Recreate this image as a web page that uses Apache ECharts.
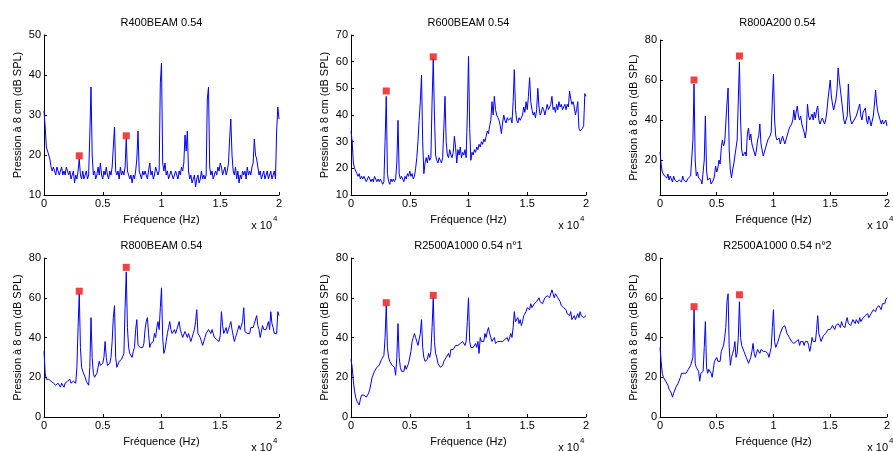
<!DOCTYPE html>
<html>
<head>
<meta charset="utf-8">
<script src="https://cdn.jsdelivr.net/npm/echarts@6/dist/echarts.min.js"></script>
<style>
html,body{margin:0;padding:0;background:#fff;}
#chart{width:893px;height:451px;}
</style>
</head>
<body>
<div id="chart"></div>
<script>
// ---- data ----
const FREQ_STEP_HZ = 100; // spacing of the spectrum samples (0 .. 20000 Hz)
const titles = ['R400BEAM 0.54', 'R600BEAM 0.54', 'R800A200 0.54', 'R800BEAM 0.54', 'R2500A1000 0.54 n°1', 'R2500A1000 0.54 n°2'];
const xTickLabels = ['0', '0.5', '1', '1.5', '2'];

const r400beam = [
31,27,22,21,20,19,17,16,17,16,
15,17,16,15,16,17,15,16,15,17,
16,15,16,14,15,16,13,15,14,16,
19,15,14,16,14,15,16,14,15,25,
37,20,15,16,14,15,17,15,18,15,
14,16,15,17,15,14,16,15,17,22,
27,16,15,16,14,17,15,16,15,17,
24,16,15,14,15,13,15,14,16,19,
26,16,15,14,16,15,16,15,14,16,
18,15,16,14,15,17,16,15,16,38,
43,18,16,18,15,16,14,15,16,15,
14,15,16,15,14,16,15,17,16,18,
25,21,26,16,14,15,13,14,15,12,
14,15,13,14,16,14,15,14,15,34,
37,17,15,16,14,15,16,15,17,16,
18,17,15,16,17,15,16,18,24,29,
20,16,15,17,14,16,13,15,14,16,
15,16,14,17,15,16,15,17,18,24,
20,19,17,15,16,14,15,16,14,15,
16,14,15,16,14,15,16,14,26,32,
29];

const r600beam = [
34,30,22,20,19,18,17,18,16,17,
16,17,16,15,16,17,16,15,16,15,
17,16,15,16,15,16,15,14,15,30,
47,18,15,14,16,15,16,15,16,22,
38,18,16,17,16,15,17,16,18,17,
19,17,18,16,17,20,24,30,38,45,
55,30,18,22,24,22,25,23,24,45,
61,40,25,23,22,24,23,22,24,35,
47,30,25,24,27,25,24,26,32,28,
22,27,25,28,24,26,25,27,24,40,
62,35,23,26,25,27,26,28,27,29,
28,30,29,31,30,32,34,33,36,38,
45,40,47,42,40,39,38,36,33,37,
40,38,37,39,38,38,39,37,45,57,
42,38,37,39,38,38,40,43,41,45,
42,47,54,45,42,40,41,39,42,50,
43,40,41,43,42,40,42,44,42,43,
44,47,42,43,41,44,42,45,43,44,
42,43,44,42,44,43,49,46,44,45,
43,40,42,45,35,34,34,35,36,48,
47];

const r800a200 = [
24,18,14,13,12,12,11,13,10,12,
11,9,12,10,11,9,8,10,11,9,
12,10,11,9,10,11,10,12,13,30,
58,20,12,14,11,12,10,8,9,20,
42,15,10,9,11,8,9,10,12,17,
14,16,20,18,26,30,27,29,28,48,
56,25,15,11,15,18,22,26,30,50,
69,40,25,22,23,24,22,33,36,30,
33,28,26,24,22,25,30,32,38,28,
25,22,24,26,28,30,29,32,34,50,
63,40,32,30,29,31,28,30,32,30,
28,30,32,34,36,35,38,40,45,40,
44,47,42,40,42,38,36,34,31,35,
48,42,40,41,43,40,44,41,45,47,
40,38,39,41,40,38,40,44,50,55,
60,52,48,45,46,50,55,66,60,55,
50,45,40,38,38,42,58,45,40,38,
39,40,41,42,44,46,48,42,40,44,
44,46,40,38,42,40,37,36,42,48,
55,48,44,42,40,38,40,38,39,40,
37];

const r800beam = [
33,22,19,20,19,20,18,19,17,16,
16,15,17,16,15,17,16,15,17,16,
18,17,19,17,18,18,17,17,25,45,
62,35,25,23,22,20,18,17,16,25,
50,30,22,20,21,22,25,28,26,25,
27,30,38,30,26,25,27,30,38,50,
56,30,25,26,28,27,29,28,32,55,
73,45,35,32,31,30,33,35,44,49,
36,37,35,36,35,37,44,48,50,42,
35,37,36,38,42,40,45,48,44,55,
65,40,32,34,38,42,45,48,44,42,
43,44,42,44,43,48,44,42,40,41,
43,44,40,42,41,38,40,42,44,48,
54,42,42,40,38,36,38,40,42,41,
44,43,42,44,42,40,41,39,40,38,
41,53,46,42,43,45,42,44,46,48,
44,41,38,40,42,44,46,44,45,48,
55,43,44,42,41,42,45,46,45,47,
48,51,46,44,40,41,46,44,43,44,
46,48,44,53,47,45,42,43,42,53,
51];

const r2500a1000n1 = [
29,25,18,13,10,8,9,6,9,11,
12,11,10,10,11,12,14,17,20,21,
23,24,25,24,26,27,29,30,31,40,
56,35,30,28,27,26,27,25,21,30,
47,30,25,23,24,23,26,24,25,27,
30,33,38,40,42,40,38,36,35,42,
49,35,30,28,27,29,32,30,33,45,
60,38,32,30,27,26,25,24,26,28,
27,30,31,32,30,34,35,34,33,36,
37,36,35,37,36,38,37,36,38,48,
60,38,35,36,35,36,37,35,38,32,
40,38,39,38,42,40,43,45,42,40,
38,39,40,37,36,38,37,38,39,38,
37,39,38,40,38,39,42,40,45,53,
48,47,50,47,49,46,48,51,50,53,
55,56,54,57,55,56,57,56,58,57,
60,58,59,57,58,60,59,61,62,60,
61,64,62,60,62,61,60,61,58,56,
57,55,56,54,52,53,51,53,49,50,
51,49,50,52,50,53,51,52,50,51,
51];

const r2500a1000n2 = [
35,28,22,20,20,18,17,16,14,13,
12,10,12,13,15,14,17,18,20,22,
23,22,21,22,21,24,25,26,25,30,
54,27,25,24,23,18,22,21,23,35,
48,25,22,24,25,22,20,24,28,27,
30,28,29,28,33,34,36,40,45,58,
62,35,26,30,32,34,38,30,32,40,
58,40,36,35,33,32,30,29,27,28,
30,33,37,32,30,32,34,33,32,34,
34,33,32,33,34,32,30,31,35,45,
54,38,35,36,38,40,42,43,45,44,
46,44,42,43,40,41,38,39,37,36,
38,37,39,36,38,37,38,36,38,37,
38,36,33,36,40,38,39,38,44,51,
42,40,38,39,41,40,42,43,44,43,
44,43,46,45,44,46,45,47,46,45,
48,46,47,45,48,50,47,48,46,47,
49,48,47,49,48,47,50,48,49,50,
49,51,50,52,50,51,52,53,54,55,
53,55,54,56,55,54,57,58,57,59,
60];

// red square markers [frequency Hz, level dB]
const marksR400 = [[3000, 19.8], [7000, 24.8]];
const marksR600 = [[3000, 49], [7000, 61.8]];
const marksR800A200 = [[3000, 60], [7000, 72]];
const marksR800 = [[3000, 63.3], [7000, 75.3]];
const marksN1 = [[3000, 57.5], [7000, 61.2]];
const marksN2 = [[3000, 55.5], [7000, 61.5]];

// y axis ranges per panel
const yRanges = [[10, 50, 10], [10, 70, 10], [2.5, 80, null], [0, 80, 20], [0, 80, 20], [0, 80, 20]];

// ---- layout ----
const FONT = 'Liberation Sans, Arial, Helvetica, sans-serif';
const layout = [
  {left: 44,  top: 35,  width: 235, height: 160},
  {left: 351, top: 35,  width: 235, height: 160},
  {left: 660, top: 40,  width: 235, height: 155},
  {left: 44,  top: 258, width: 235, height: 159},
  {left: 351, top: 258, width: 235, height: 159},
  {left: 660, top: 258, width: 235, height: 159}
];
const seriesValues = [r400beam, r600beam, r800a200, r800beam, r2500a1000n1, r2500a1000n2];
const markSets = [marksR400, marksR600, marksR800A200, marksR800, marksN1, marksN2];

const grids = [], xAxes = [], yAxes = [], series = [], graphics = [];
layout.forEach((g, i) => {
  grids.push({left: g.left, top: g.top, width: g.width, height: g.height, containLabel: false});
  xAxes.push({
    type: 'value', gridIndex: i, min: 0, max: 20000, interval: 5000,
    name: 'Fréquence (Hz)', nameLocation: 'middle', nameGap: 19,
    nameTextStyle: {fontFamily: FONT, fontSize: 11, color: '#000'},
    axisLine: {show: true, onZero: false, lineStyle: {color: '#000', width: 1}},
    axisTick: {show: true, inside: true, length: 3, lineStyle: {color: '#000'}},
    axisLabel: {fontFamily: FONT, fontSize: 11, color: '#000', margin: 3,
      formatter: v => xTickLabels[Math.round(v / 5000)]},
    splitLine: {show: false}
  });
  const yr = yRanges[i];
  const ya = {
    type: 'value', gridIndex: i, min: yr[0], max: yr[1],
    name: 'Pression à 8 cm (dB SPL)', nameLocation: 'middle', nameGap: 21,
    nameTextStyle: {fontFamily: FONT, fontSize: 11, color: '#000'},
    axisLine: {show: true, onZero: false, lineStyle: {color: '#000', width: 1}},
    axisTick: {show: true, inside: true, length: 3, lineStyle: {color: '#000'}},
    axisLabel: {fontFamily: FONT, fontSize: 11, color: '#000', margin: 3},
    splitLine: {show: false}
  };
  if (yr[2]) {
    ya.interval = yr[2];
  } else {
    ya.axisLabel.customValues = [20, 40, 60, 80];
    ya.axisTick.customValues = [20, 40, 60, 80];
  }
  yAxes.push(ya);
  series.push({
    type: 'line', xAxisIndex: i, yAxisIndex: i, showSymbol: false, symbol: 'none',
    data: seriesValues[i].map((v, k) => [k * FREQ_STEP_HZ, v]),
    lineStyle: {color: '#0000ff', width: 1}, itemStyle: {color: '#0000ff'},
    clip: true, silent: true
  });
  series.push({
    type: 'scatter', xAxisIndex: i, yAxisIndex: i, symbol: 'rect', symbolSize: 7,
    data: markSets[i], itemStyle: {color: '#ee1111'}, silent: true, z: 5
  });
  const cx = g.left + g.width / 2;
  const bottom = g.top + g.height;
  const titleY = i < 3 ? 23 : 246;
  graphics.push({type: 'text', x: cx, y: titleY, style: {text: titles[i], fill: '#000', font: '11px ' + FONT, align: 'center', verticalAlign: 'middle'}});
  const right = g.left + g.width;
  graphics.push({type: 'text', x: right - 7, y: bottom + 31, style: {text: 'x 10', fill: '#000', font: '11px ' + FONT, align: 'right', verticalAlign: 'middle'}});
  graphics.push({type: 'text', x: right - 6, y: bottom + 24, style: {text: '4', fill: '#000', font: '8px ' + FONT, align: 'left', verticalAlign: 'middle'}});
});

const chart = echarts.init(document.getElementById('chart'), null, {renderer: 'canvas'});
chart.setOption({
  animation: false,
  backgroundColor: '#fff',
  grid: grids, xAxis: xAxes, yAxis: yAxes, series: series,
  graphic: graphics
});
</script>
</body>
</html>
